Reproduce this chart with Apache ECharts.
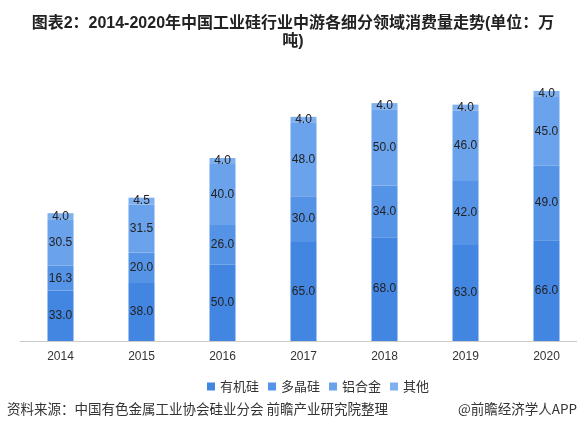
<!DOCTYPE html>
<html lang="zh">
<head>
    <meta charset="UTF-8">
    <title>工业硅消费量</title>
    <script src="https://cdn.jsdelivr.net/npm/echarts@6/dist/echarts.min.js"></script>
    <style>
        html, body { margin: 0; padding: 0; background: #fff; overflow: hidden; }
    </style>
</head>
<body>
    <div id="main" style="width: 600px;height:432px;"></div>
    <script type="text/javascript">
        // 数据
        var years = ['2014', '2015', '2016', '2017', '2018', '2019', '2020'];
        var organicSilicon = [33.0, 38.0, 50.0, 65.0, 68.0, 63.0, 66.0];
        var polySilicon = [16.3, 20.0, 26.0, 30.0, 34.0, 42.0, 49.0];
        var aluminumAlloy = [30.5, 31.5, 40.0, 48.0, 50.0, 46.0, 45.0];
        var others = [4.0, 4.5, 4.0, 4.0, 4.0, 4.0, 4.0];

        var names = ['有机硅', '多晶硅', '铝合金', '其他'];
        var colors = ['#4286e2', '#5593e6', '#6aa2eb', '#7fb0ef'];
        var values = [organicSilicon, polySilicon, aluminumAlloy, others];

        var myChart = echarts.init(document.getElementById('main'));

        var series = names.map(function (name, i) {
            return {
                name: name,
                type: 'bar',
                stack: 'total',
                barWidth: 26,
                itemStyle: { color: colors[i] },
                label: {
                    show: true,
                    position: 'inside',
                    color: '#222',
                    fontSize: 12,
                    fontFamily: 'Liberation Sans',
                    formatter: function (p) { return p.value.toFixed(1); }
                },
                data: values[i]
            };
        });

        var option = {
            animation: false,
            title: {
                text: '图表2：2014-2020年中国工业硅行业中游各细分领域消费量走势(单位：万\n吨)',
                left: 288,
                top: 10,
                textAlign: 'center',
                textStyle: {
                    fontSize: 16,
                    fontWeight: 'bold',
                    color: '#222',
                    lineHeight: 18,
                    fontFamily: 'Liberation Sans, Noto Sans CJK SC'
                }
            },
            legend: {
                data: names,
                left: 202,
                top: 375,
                icon: 'rect',
                itemWidth: 8,
                itemHeight: 8,
                itemGap: 9,
                textStyle: { fontSize: 13, color: '#333', fontFamily: 'Noto Sans CJK SC' }
            },
            grid: {
                left: 20,
                top: 66.5,
                width: 567,
                height: 274.5
            },
            xAxis: {
                type: 'category',
                data: years,
                axisLine: { lineStyle: { color: '#ccc' } },
                axisTick: { show: false },
                axisLabel: { color: '#333', fontSize: 12, margin: 10, fontFamily: 'Liberation Sans' }
            },
            yAxis: {
                type: 'value',
                min: 0,
                max: 180,
                show: false,
                splitLine: { show: false }
            },
            graphic: [
                {
                    type: 'text',
                    left: 7,
                    top: 402,
                    style: {
                        text: '资料来源：中国有色金属工业协会硅业分会 前瞻产业研究院整理',
                        fill: '#333',
                        fontSize: 13.5,
                        fontFamily: 'Noto Sans CJK SC'
                    }
                },
                {
                    type: 'text',
                    x: 577,
                    y: 402,
                    style: {
                        text: '@前瞻经济学人APP',
                        fill: '#333',
                        fontSize: 13.5,
                        textAlign: 'right',
                        fontFamily: 'Noto Sans CJK SC'
                    }
                }
            ],
            series: series
        };

        myChart.setOption(option);
    </script>
</body>
</html>
